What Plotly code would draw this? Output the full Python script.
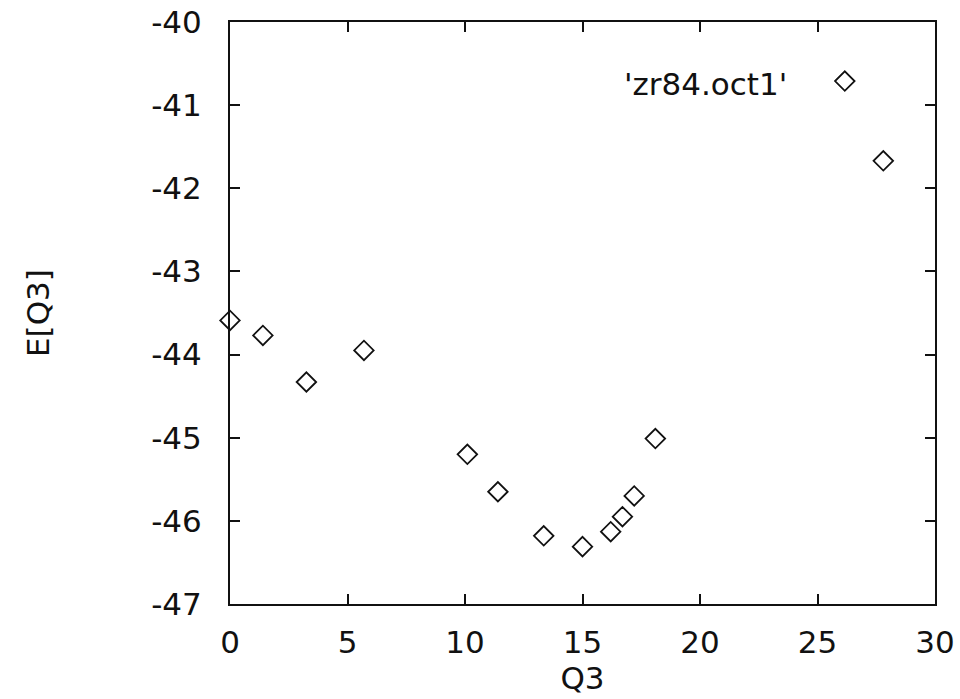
import plotly.graph_objects as go

# Energy curve E[Q3] versus the octupole coordinate Q3
q3 = [0.0, 1.4, 3.25, 5.7, 10.1, 11.4, 13.35, 15.0, 16.2, 16.7, 17.2, 18.1, 27.8]
energy = [-43.59, -43.77, -44.33, -43.95, -45.20, -45.65, -46.18, -46.31,
          -46.13, -45.95, -45.70, -45.01, -41.67]

series_name = "'zr84.oct1'"
x_ticks = [0, 5, 10, 15, 20, 25, 30]
y_ticks = [-47, -46, -45, -44, -43, -42, -41, -40]
y_tick_text = ["-47", "-46", "-45", "-44", "-43", "-42", "-41", "-40"]

font = dict(family="DejaVu Sans, Liberation Sans, sans-serif", size=31, color="#111")

fig = go.Figure()
fig.add_trace(go.Scatter(
    x=q3, y=energy, mode="markers", name=" ",
    marker=dict(symbol="diamond-open", size=15, color="#111",
                line=dict(width=1.8, color="#111")),
    cliponaxis=False, showlegend=True,
))

axis_common = dict(
    showgrid=False, zeroline=False, showline=True, linecolor="#111",
    linewidth=2, mirror="ticks", ticks="inside", ticklen=10, tickwidth=2,
    tickcolor="#111", tickfont=font, automargin=False,
)

fig.update_layout(
    width=960, height=699,
    margin=dict(l=230, r=25, t=22, b=95),
    paper_bgcolor="white", plot_bgcolor="white",
    font=font,
    xaxis=dict(range=[0, 30], tickvals=x_ticks, title=dict(text="Q3", font=font, standoff=0),
               ticklabelstandoff=10, **axis_common),
    yaxis=dict(range=[-47, -40], tickvals=y_ticks, ticktext=y_tick_text,
               title=dict(text="E[Q3]", font=font, standoff=92),
               ticklabelstandoff=20, **axis_common),
    legend=dict(
        x=0.556, y=0.898, xanchor="left", yanchor="middle",
        bgcolor="rgba(0,0,0,0)", borderwidth=0,
        title=dict(text=series_name + "\u00a0\u00a0\u00a0", side="left", font=font),
        font=font, itemwidth=30,
    ),
)

fig.write_html("out.html")
